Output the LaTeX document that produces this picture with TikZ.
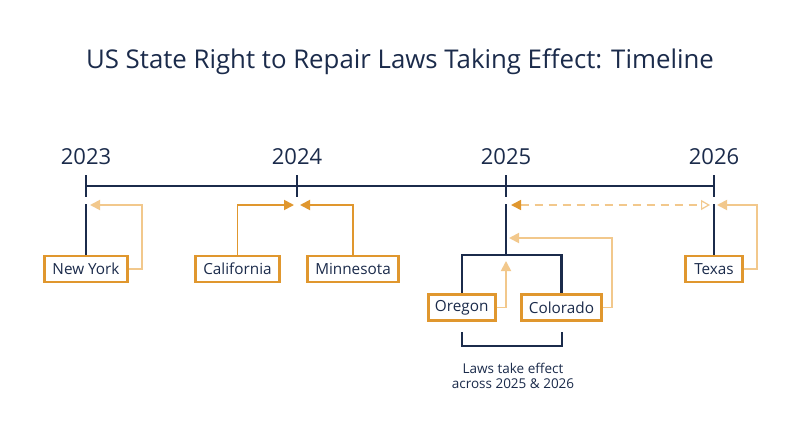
\documentclass[tikz,border=0pt]{standalone}
\usepackage{fontspec}
\setmainfont{Open Sans}
\usetikzlibrary{arrows.meta}
\definecolor{navy}{HTML}{1B2B4B}
\definecolor{dorange}{HTML}{E0972E}
\definecolor{lorange}{HTML}{F2C88C}
\begin{document}
\begin{tikzpicture}[x=1pt,y=-1pt,
 statebox/.style={draw=dorange, line width=2.6pt, fill=white, text=navy,
   font=\fontsize{15.3}{18}\selectfont, minimum height=26pt, inner sep=0pt},
 yearlbl/.style={text=navy, font=\fontsize{22}{26}\selectfont, anchor=base},
 axis/.style={draw=navy, line width=2.2pt},
 darr/.style={draw=dorange, line width=1.8pt, -{Triangle[length=10pt,width=10pt]}},
 larr/.style={draw=lorange, line width=1.8pt, -{Triangle[length=10pt,width=10pt]}},
 note/.style={text=navy, font=\fontsize{13.5}{16}\selectfont},
]
\useasboundingbox (0,0) rectangle (800,447);
\fill[white] (0,0) rectangle (800,447);
% title
\node[text=navy, font=\fontsize{25.8}{30}\selectfont, anchor=base] (title) at (400,68) {US State Right to Repair Laws Taking Effect: Timeline};
% timeline
\coordinate (t23) at (86,186);
\coordinate (t24) at (297,186);
\coordinate (t25) at (506,186);
\coordinate (t26) at (714,186);
\draw[axis] (t23) -- (t26);
\foreach \t in {t23,t24,t25,t26} \draw[axis] (\t) ++(0,-11) -- ++(0,22);
\node[yearlbl] (y23) at (86,164) {2023};
\node[yearlbl] (y24) at (297,164) {2024};
\node[yearlbl] (y25) at (506,164) {2025};
\node[yearlbl] (y26) at (714,164) {2026};
% state boxes
\node[statebox, minimum width=83pt] (ny) at (86,269) {New York};
\node[statebox, minimum width=84pt] (ca) at (237.5,269) {California};
\node[statebox, minimum width=91pt] (mn) at (353,269) {Minnesota};
\node[statebox, minimum width=67pt] (or) at (461.7,307.5) {Oregon};
\node[statebox, minimum width=80pt] (co) at (561.5,307.5) {Colorado};
\node[statebox, minimum width=57pt] (tx) at (714,269) {Texas};
% stems
\coordinate (s23) at (86,204);
\coordinate (s25) at (506,204);
\coordinate (s26) at (714,204);
\coordinate (b25) at (506,255);
\draw[axis] (s23) -- (ny.north);
\draw[axis] (s25) -- (b25);
\draw[axis] (or.north) |- (b25) -| (co.north);
\draw[axis] (s26) -- (tx.north);
% arrows
\coordinate (nyc) at (142,205);
\coordinate (nyt) at (90,205);
\draw[larr] (ny.east) -| (nyc) -- (nyt);
\coordinate (cat) at (294,205);
\draw[darr] (ca.north) |- (cat);
\coordinate (mnt) at (300,205);
\draw[darr] (mn.north) |- (mnt);
\coordinate (ort) at (506,261);
\draw[larr] (or.east) -| (ort);
\coordinate (coc) at (612,238);
\coordinate (cot) at (509,238);
\draw[larr] (co.east) -| (coc) -- (cot);
\coordinate (txc) at (757,205);
\coordinate (txt) at (717,205);
\draw[larr] (tx.east) -| (txc) -- (txt);
\coordinate (dl) at (511,205);
\coordinate (dr) at (710,205);
\draw[draw=lorange, line width=1.6pt, dash pattern=on 8pt off 6pt,
  {Triangle[length=10pt,width=10pt,color=dorange]}-{Triangle[open,length=9pt,width=10pt,line width=1.2pt]}] (dl) -- (dr);
% bottom bracket
\coordinate (bl) at (461.7,332);
\coordinate (br) at (561.7,332);
\draw[draw=navy, line width=1.6pt] (bl) -- ++(0,14) -| (br);
\node[note] (n1) at (513,368) {Laws take effect};
\node[note] (n2) at (513,384) {across 2025 \& 2026};
\end{tikzpicture}
\end{document}
